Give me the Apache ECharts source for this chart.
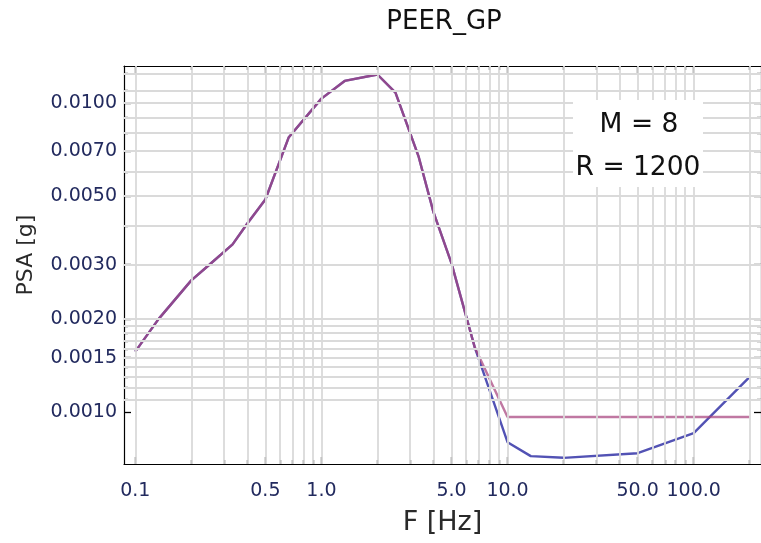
<!DOCTYPE html>
<html><head><meta charset="utf-8">
<script src="https://cdn.jsdelivr.net/npm/echarts@6/dist/echarts.min.js"></script>
<style>html,body{margin:0;padding:0;background:#fff}#c{width:761px;height:543px}</style>
</head><body><div id="c"></div>
<script>
// ---- data ----
const freq = [0.1, 0.1333, 0.2, 0.25, 0.3333, 0.4, 0.5, 0.6667, 1, 1.3333, 2, 2.5, 3.3333, 4, 5, 6.6667, 10, 13.333, 20, 50, 100, 200];
const psaBlue = [0.00157, 0.0020, 0.00267, 0.0030, 0.00349, 0.00408, 0.00488, 0.00774, 0.01035, 0.01181, 0.01239, 0.01083, 0.0067, 0.00444, 0.00303, 0.00162, 0.000799, 0.00072, 0.000711, 0.000736, 0.000855, 0.0013];
const psaRed = [0.00157, 0.0020, 0.00267, 0.0030, 0.00349, 0.00408, 0.00488, 0.00774, 0.01035, 0.01181, 0.01239, 0.01083, 0.0067, 0.00444, 0.00303, 0.00162, 0.000964, 0.000964, 0.000964, 0.000964, 0.000964, 0.000964];

const xMajorTicks = [0.1, 0.5, 1, 5, 10, 50, 100];
const xMajorLabels = ['0.1', '0.5', '1.0', '5.0', '10.0', '50.0', '100.0'];
const xMinorTicks = [0.2, 0.3, 0.4, 0.6, 0.7, 0.8, 0.9, 2, 3, 4, 6, 7, 8, 9, 20, 30, 40, 60, 70, 80, 90, 200];
const xGridLines = [0.1, 0.2, 0.3, 0.4, 0.5, 0.6, 0.7, 0.8, 0.9, 1, 2, 3, 4, 5, 6, 7, 8, 9, 10, 20, 30, 40, 50, 60, 70, 80, 90, 100, 200];

const yMajorTicks = [0.001, 0.0015, 0.002, 0.003, 0.005, 0.007, 0.01];
const yMajorLabels = ['0.0010', '0.0015', '0.0020', '0.0030', '0.0050', '0.0070', '0.0100'];
const yMinorTicks = [0.0011, 0.0012, 0.0013, 0.0014, 0.0016, 0.0017, 0.0018, 0.0019, 0.004, 0.006, 0.008, 0.009, 0.011, 0.0125];
const yGridLines = [0.0011, 0.0012, 0.0013, 0.0014, 0.0015, 0.0016, 0.0017, 0.0018, 0.0019, 0.002, 0.003, 0.004, 0.005, 0.006, 0.007, 0.008, 0.009, 0.01, 0.011, 0.0125];

const xRange = [0.087, 230];
const yRange = [0.000679, 0.0132];

const titleText = 'PEER_GP';
const xName = 'F [Hz]';
const yName = 'PSA [g]';
const noteLines = ['M = 8', 'R = 1200'];

// ---- chart ----
const FONT = 'DejaVu Sans';
const LABEL_COLOR = '#222a5e';
function lookup(vals, labels) {
  return function (v) {
    for (let i = 0; i < vals.length; i++) {
      if (Math.abs(v - vals[i]) / vals[i] < 1e-6) return labels[i];
    }
    return '';
  };
}
function xAxisCfg(pos, ticks, len, showLine, showLabel) {
  return {
    type: 'log', logBase: 10, position: pos, min: xRange[0], max: xRange[1],
    axisLine: { show: showLine, lineStyle: { color: '#000', width: 1.2 } },
    axisTick: { show: true, inside: true, length: len, customValues: ticks, lineStyle: { color: '#000', width: 1.3 } },
    axisLabel: showLabel ? { show: true, customValues: xMajorTicks, formatter: lookup(xMajorTicks, xMajorLabels), margin: 18,
      fontFamily: FONT, fontSize: 19, color: LABEL_COLOR } : { show: false },
    splitLine: { show: false }, minorTick: { show: false },
    name: showLabel ? xName : '', nameLocation: 'middle', nameGap: 45,
    nameTextStyle: { fontFamily: FONT, fontSize: 27, color: '#2a2a2a' }
  };
}
function yAxisCfg(pos, ticks, len, showLine, showLabel) {
  return {
    type: 'log', logBase: 10, position: pos, min: yRange[0], max: yRange[1],
    axisLine: { show: showLine, lineStyle: { color: '#000', width: 1.2 } },
    axisTick: { show: true, inside: true, length: len, customValues: ticks, lineStyle: { color: '#000', width: 1.3 } },
    axisLabel: showLabel ? { show: true, customValues: yMajorTicks, formatter: lookup(yMajorTicks, yMajorLabels), margin: 7,
      fontFamily: FONT, fontSize: 19, color: LABEL_COLOR } : { show: false },
    splitLine: { show: false }, minorTick: { show: false },
    name: showLabel ? yName : '', nameLocation: 'middle', nameGap: 87, nameRotate: 90,
    nameTextStyle: { fontFamily: FONT, fontSize: 22, color: '#2a2a2a', padding: [0, 0, 0, 20] }
  };
}

const gridLineData = xGridLines.map(v => [{ coord: [v, yRange[0]] }, { coord: [v, yRange[1]] }])
  .concat(yGridLines.map(v => [{ coord: [xRange[0], v] }, { coord: [xRange[1], v] }]));

const chart = echarts.init(document.getElementById('c'), null, { renderer: 'canvas' });
chart.setOption({
  animation: false,
  backgroundColor: '#fff',
  grid: { left: 124, right: -3, top: 66, bottom: 79, containLabel: false },
  xAxis: [
    xAxisCfg('bottom', xMajorTicks, 7, true, true),
    xAxisCfg('bottom', xMinorTicks, 4, false, false),
    xAxisCfg('top', xMajorTicks, 7, true, false),
    xAxisCfg('top', xMinorTicks, 4, false, false)
  ],
  yAxis: [
    yAxisCfg('left', yMajorTicks, 7, true, true),
    yAxisCfg('left', yMinorTicks, 4, false, false),
    yAxisCfg('right', yMajorTicks, 7, true, false),
    yAxisCfg('right', yMinorTicks, 4, false, false)
  ],
  graphic: [
    { type: 'text', x: 444, y: 22, z: 100,
      style: { text: titleText, fontFamily: FONT, fontSize: 26, fill: '#111', align: 'center', verticalAlign: 'middle' } },
    { type: 'rect', z: 100, shape: { x: 573, y: 100, width: 130, height: 87 }, style: { fill: '#fff' } },
    { type: 'text', z: 101, x: 639, y: 125, style: { text: noteLines[0], fontFamily: FONT, fontSize: 26.5, fill: '#111', align: 'center', verticalAlign: 'middle' } },
    { type: 'text', z: 101, x: 638, y: 168, style: { text: noteLines[1], fontFamily: FONT, fontSize: 26.5, fill: '#111', align: 'center', verticalAlign: 'middle' } }
  ],
  series: [
    { type: 'line', name: 'grid', data: [], z: 1, silent: true,
      showSymbol: false, emphasis: { disabled: true },
      markLine: { silent: true, symbol: ['none', 'none'], label: { show: false }, animation: false,
        lineStyle: { color: '#dadada', width: 1.8, type: 'solid' }, emphasis: { disabled: true },
        data: gridLineData } },
    { type: 'line', name: 'blue', data: freq.map((f, i) => [f, psaBlue[i]]), z: 3,
      showSymbol: false, lineStyle: { color: '#5252b4', width: 2.4 }, emphasis: { disabled: true } },
    { type: 'line', name: 'red', data: freq.map((f, i) => [f, psaRed[i]]), z: 4,
      showSymbol: false, lineStyle: { color: '#a8447e', width: 2.4, opacity: 0.72 }, emphasis: { disabled: true } }
  ]
});
</script></body></html>
